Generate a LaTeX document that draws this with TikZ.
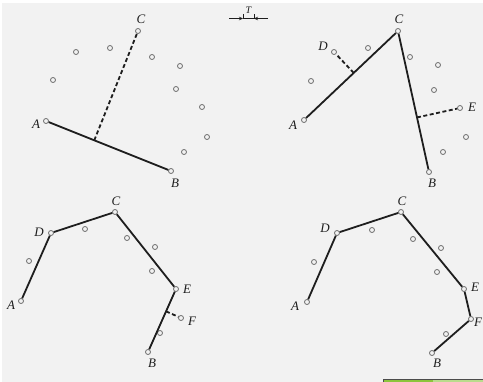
\documentclass[tikz,border=0pt]{standalone}
\usepackage{fontspec}
\setmainfont{Liberation Serif}
\usetikzlibrary{arrows.meta,positioning,calc}
\definecolor{paper}{HTML}{F2F2F2}
\definecolor{ink}{HTML}{1E1E1E}
\definecolor{ptgray}{HTML}{6A6A6A}
\definecolor{barA}{HTML}{8CC43C}
\definecolor{barB}{HTML}{B9DB8C}
\tikzset{
  dot/.style  ={circle,draw=ptgray,line width=0.8pt,minimum size=5pt,inner sep=0pt},
  seg/.style  ={line width=1.8pt,ink},
  perp/.style ={seg,dash pattern=on 4pt off 2.5pt},
  lbl/.style  ={font=\fontsize{13}{13}\selectfont\itshape,inner sep=0pt,text=ink},
  dim/.style  ={-{Stealth[length=4pt,width=3.5pt]},line width=0.8pt,ink},
}

\begin{document}
\begin{tikzpicture}[x=1pt,y=-1pt]
  \useasboundingbox (0,0) rectangle (483,382);
  \fill[white] (0,0) rectangle (483,382);
  \fill[paper] (2,3) rectangle (483,382);

  % TOP LEFT: chord AB, farthest point C
  \begin{scope}[name prefix=p1-]
    \foreach \x/\y [count=\k] in {76/52,110/48,152/57,180/66,53/80,176/89,202/107,207/137,184/152}
      \node[dot] (s\k) at (\x,\y){};
    \node[dot] (A) at (46,121){};
    \node[dot] (B) at (171,171){};
    \node[dot] (C) at (138,31){};
    \coordinate (H) at ($(A)!(C)!(B)$);
    \draw[seg] (A) -- (B);
    \draw[perp] (H) -- (C);
    \node[lbl] (lA) at (36,124){A};
    \node[lbl] (lB) at (175,183){B};
    \node[lbl] (lC) at (141,19){C};
  \end{scope}

  % tolerance mark T
  \coordinate (Tl) at (243,18.5);
  \coordinate (Tr) at (254,18.5);
  \coordinate (Ta) at (229,18.5);
  \coordinate (Tb) at (268,18.5);
  \draw[line width=0.7pt,ink] ($(Tl)+(0,-4.5)$) -- (Tl) -- (Tr) -- ($(Tr)+(0,-4.5)$);
  \draw[dim] (Ta) -- (Tl);
  \draw[dim] (Tb) -- (Tr);
  \node[lbl,font=\fontsize{10}{10}\selectfont\itshape] (lT) at (248.5,10){T};

  % TOP RIGHT: split at C, new points D and E
  \begin{scope}[name prefix=p2-]
    \foreach \x/\y [count=\k] in {368/48,311/81,410/57,438/65,434/90,466/137,443/152}
      \node[dot] (s\k) at (\x,\y){};
    \node[dot] (A) at (304,120){};
    \node[dot] (D) at (334,52){};
    \node[dot] (C) at (398,31){};
    \node[dot] (E) at (460,108){};
    \node[dot] (B) at (429,172){};
    \coordinate (HD) at ($(A)!(D)!(C)$);
    \coordinate (HE) at ($(C)!(E)!(B)$);
    \draw[seg] (A) -- (C) -- (B);
    \draw[perp] (HD) -- (D);
    \draw[perp] (HE) -- (E);
    \node[lbl] (lA) at (293,125){A};
    \node[lbl] (lD) at (323,46){D};
    \node[lbl] (lC) at (399,19){C};
    \node[lbl] (lE) at (472,107){E};
    \node[lbl] (lB) at (432,183){B};
  \end{scope}

  % BOTTOM LEFT: polyline A-D-C-E-B, point F left
  \begin{scope}[name prefix=p3-]
    \foreach \x/\y [count=\k] in {85/229,29/261,127/238,155/247,152/271,160/333}
      \node[dot] (s\k) at (\x,\y){};
    \node[dot] (A) at (21,301){};
    \node[dot] (D) at (51,233){};
    \node[dot] (C) at (115,212){};
    \node[dot] (E) at (176,289){};
    \node[dot] (F) at (181,318){};
    \node[dot] (B) at (148,352){};
    \coordinate (HF) at ($(E)!(F)!(B)$);
    \draw[seg] (A) -- (D) -- (C) -- (E) -- (B);
    \draw[perp] (HF) -- (F);
    \node[lbl] (lA) at (11,305){A};
    \node[lbl] (lD) at (39,232){D};
    \node[lbl] (lC) at (116,201){C};
    \node[lbl] (lE) at (187,289){E};
    \node[lbl] (lF) at (192,321){F};
    \node[lbl] (lB) at (152,363){B};
  \end{scope}

  % BOTTOM RIGHT: final polyline A-D-C-E-F-B
  \begin{scope}[name prefix=p4-]
    \foreach \x/\y [count=\k] in {372/230,314/262,413/239,441/248,437/272,446/334}
      \node[dot] (s\k) at (\x,\y){};
    \node[dot] (A) at (307,302){};
    \node[dot] (D) at (337,233){};
    \node[dot] (C) at (401,212){};
    \node[dot] (E) at (464,289){};
    \node[dot] (F) at (471,319){};
    \node[dot] (B) at (432,353){};
    \draw[seg] (A) -- (D) -- (C) -- (E) -- (F) -- (B);
    \node[lbl] (lA) at (295,306){A};
    \node[lbl] (lD) at (325,228){D};
    \node[lbl] (lC) at (402,201){C};
    \node[lbl] (lE) at (475,287){E};
    \node[lbl] (lF) at (478,322){F};
    \node[lbl] (lB) at (437,363){B};
  \end{scope}

  % green strip at the bottom edge
  \fill[barA] (383,379) rectangle (433,382);
  \fill[barB] (433,379) rectangle (483,382);
  \draw[line width=0.6pt,black!70] (383,382) -- (383,379) -- (483,379);
\end{tikzpicture}
\end{document}
